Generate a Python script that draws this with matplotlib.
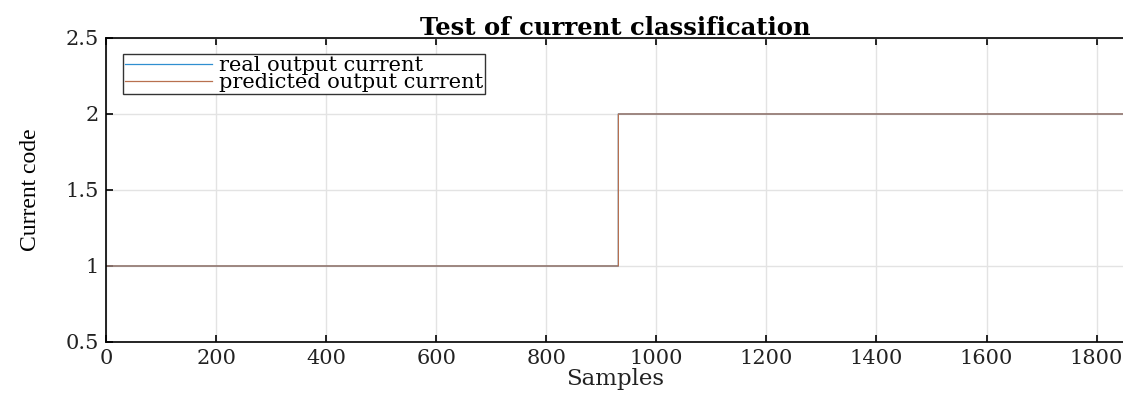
import numpy as np
import matplotlib.pyplot as plt

# class codes of the output current, one value per sample
n_samples = 1850
switch_sample = 930
class_levels = [1, 2]
segment_lengths = [switch_sample, n_samples - switch_sample]

real_current = np.repeat(class_levels, segment_lengths)
predicted_current = np.repeat(class_levels, segment_lengths)
samples = np.arange(1, n_samples + 1)

x_ticks = [0, 200, 400, 600, 800, 1000, 1200, 1400, 1600, 1800]
y_ticks = [0.5, 1, 1.5, 2, 2.5]
y_ticklabels = ["0.5", "1", "1.5", "2", "2.5"]

wide_serif = ["DejaVu Serif"]
narrow_serif = ["Liberation Serif", "DejaVu Serif"]

fig = plt.figure(figsize=(11.23, 3.94), dpi=100)
ax = fig.add_axes([0.0944, 0.132, 0.9066, 0.7716])

ax.step(samples, real_current, where="post", color="#2F8FD0", lw=0.9,
        label="real output current")
ax.step(samples, predicted_current, where="post", color="#B8704F", lw=0.9,
        label="predicted output current")

ax.set_xlim(0, 1850)
ax.set_ylim(0.5, 2.5)
ax.set_xticks(x_ticks)
ax.set_yticks(y_ticks)
ax.set_yticklabels(y_ticklabels)
ax.tick_params(direction="in", length=5, width=1.2, top=True, right=False,
               pad=5)
for lab in ax.get_xticklabels() + ax.get_yticklabels():
    lab.set_family(wide_serif)
    lab.set_fontsize(15)
    lab.set_color("#222222")
ax.grid(True, color="#e3e3e3", lw=1.0)
ax.set_axisbelow(True)
for side in ["left", "bottom", "top"]:
    ax.spines[side].set_linewidth(1.2)
ax.spines["right"].set_visible(False)

ax.set_title("Test of current classification", family=wide_serif,
             fontsize=17.5, fontweight="bold", pad=2)
ax.set_xlabel("Samples", family=wide_serif, fontsize=16.5, labelpad=0,
              color="#222222")
ax.set_ylabel("Current code", family=narrow_serif, fontsize=17, labelpad=18)

leg = ax.legend(loc="upper left", bbox_to_anchor=(0.0165, 0.947),
                prop={"family": wide_serif, "size": 15},
                fancybox=False, framealpha=1, edgecolor="#333333",
                handlelength=4.2, handletextpad=0.3, borderpad=0.1,
                labelspacing=-0.1, borderaxespad=0)
leg.get_frame().set_linewidth(1.0)

fig.savefig("out.png", dpi=100)
